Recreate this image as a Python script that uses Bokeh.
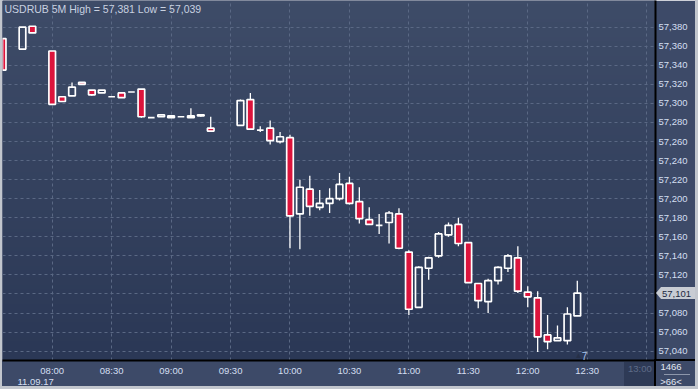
import numpy as np
import pandas as pd
from bokeh.plotting import figure
from bokeh.layouts import column
from bokeh.models import (Range1d, FixedTicker, CustomJSTickFormatter, DatetimeTickFormatter,
                          ColumnDataSource, Label, Title, Div)
from bokeh.embed import file_html
from bokeh.resources import INLINE

# ---------------- data ----------------
DAY = "2017-09-11"
times = ["07:35", "07:45", "07:50", "08:00", "08:05", "08:10", "08:15", "08:20", "08:25",
         "08:30", "08:35", "08:40", "08:45", "08:50", "08:55", "09:00", "09:05", "09:10",
         "09:15", "09:20", "09:35", "09:40", "09:45", "09:50", "09:55", "10:00", "10:05",
         "10:10", "10:15", "10:20", "10:25", "10:30", "10:35", "10:40", "10:45", "10:50",
         "10:55", "11:00", "11:05", "11:10", "11:15", "11:20", "11:25", "11:30", "11:35",
         "11:40", "11:45", "11:50", "11:55", "12:00", "12:05", "12:10", "12:15", "12:20",
         "12:25"]
opens = [57.368, 57.357, 57.381, 57.355, 57.307, 57.308, 57.322, 57.314, 57.311,
         57.307, 57.311, 57.312, 57.315, 57.285, 57.286, 57.287, 57.286, 57.285,
         57.287, 57.274, 57.277, 57.304, 57.272, 57.274, 57.260, 57.264, 57.184,
         57.210, 57.191, 57.195, 57.200, 57.216, 57.197, 57.178, 57.172, 57.175,
         57.184, 57.144, 57.086, 57.127, 57.140, 57.162, 57.173, 57.154, 57.111,
         57.092, 57.114, 57.127, 57.138, 57.102, 57.096, 57.057, 57.051, 57.051,
         57.077]
highs = [57.368, 57.380, 57.381, 57.355, 57.307, 57.322, 57.322, 57.314, 57.314,
         57.307, 57.311, 57.312, 57.315, 57.285, 57.288, 57.287, 57.286, 57.295,
         57.288, 57.286, 57.304, 57.311, 57.276, 57.282, 57.270, 57.267, 57.220,
         57.224, 57.209, 57.211, 57.227, 57.223, 57.212, 57.191, 57.184, 57.187,
         57.190, 57.146, 57.129, 57.139, 57.165, 57.175, 57.180, 57.154, 57.111,
         57.116, 57.129, 57.142, 57.150, 57.108, 57.103, 57.078, 57.067, 57.086,
         57.114]
lows = [57.335, 57.357, 57.374, 57.299, 57.302, 57.308, 57.320, 57.308, 57.311,
        57.307, 57.306, 57.312, 57.285, 57.285, 57.286, 57.285, 57.286, 57.285,
        57.286, 57.271, 57.277, 57.273, 57.270, 57.257, 57.258, 57.148, 57.147,
        57.182, 57.188, 57.185, 57.198, 57.194, 57.174, 57.173, 57.163, 57.153,
        57.147, 57.078, 57.086, 57.115, 57.138, 57.160, 57.150, 57.112, 57.085,
        57.080, 57.110, 57.123, 57.101, 57.086, 57.039, 57.042, 57.051, 57.047,
        57.077]
closes = [57.335, 57.380, 57.374, 57.299, 57.302, 57.317, 57.320, 57.309, 57.314,
          57.307, 57.306, 57.312, 57.286, 57.285, 57.288, 57.285, 57.286, 57.287,
          57.288, 57.271, 57.303, 57.273, 57.272, 57.261, 57.265, 57.182, 57.212,
          57.192, 57.195, 57.200, 57.215, 57.195, 57.179, 57.173, 57.172, 57.185,
          57.148, 57.084, 57.128, 57.138, 57.163, 57.172, 57.153, 57.112, 57.093,
          57.114, 57.128, 57.140, 57.103, 57.097, 57.055, 57.050, 57.054, 57.079,
          57.101]

y_ticks = [57.040, 57.060, 57.080, 57.100, 57.120, 57.140, 57.160, 57.180, 57.200,
           57.220, 57.240, 57.260, 57.280, 57.300, 57.320, 57.340, 57.360, 57.380]
x_tick_labels = ["08:00", "08:30", "09:00", "09:30", "10:00", "10:30", "11:00",
                 "11:30", "12:00", "12:30"]
future_tick = "13:00"
title_text = "USDRUB 5M High = 57,381 Low = 57,039"
date_text = "11.09.17"
bars_text = "1466"
zoom_text = ">66<"
event_text = "7"

# ---------------- styling ----------------
RED = "#dc143c"
PANEL = "#3d4a68"
EDGE = "#c2c6cd"
TXT = "#d4dff1"
GRID = "#5a6884"
FONT = "Liberation Sans"
TFONT = "Liberation Sans Narrow, Liberation Sans, sans-serif"
W, H = 698, 389
FRAME_H = 360


def ms(hhmm):
    return pd.Timestamp(f"{DAY} {hhmm}").value / 1e6


X_START = ms("07:34:55")
X_END = ms("13:04:28")
Y_MIN, Y_MAX = 57.0302, 57.4080
BODY_W = 200000

t_ms = [ms(t) for t in times]
tops = [max(o, c) for o, c in zip(opens, closes)]
bots = [min(o, c) for o, c in zip(opens, closes)]
fills = [RED if c < o else "white" for o, c in zip(opens, closes)]
alphas = [1.0 if c < o else 0.0 for o, c in zip(opens, closes)]
src = ColumnDataSource(dict(t=t_ms, top=tops, bottom=bots, high=highs, low=lows,
                            fill=fills, alpha=alphas))

p = figure(width=W, height=H, x_axis_type="datetime", y_axis_location="right",
           x_range=Range1d(X_START, X_END), y_range=Range1d(Y_MIN, Y_MAX),
           output_backend="svg", toolbar_location=None,
           min_border_left=2, min_border_right=43, min_border_top=0,
           min_border_bottom=H - FRAME_H)
p.border_fill_color = PANEL
p.background_fill_color = "#34415f"
p.outline_line_color = None

# gradient background of the plot area
N = 96
img = np.empty((N, 1), dtype=np.uint32)
view = img.view(dtype=np.uint8).reshape((N, 1, 4))
top_c = np.array([62, 76, 104])
bot_c = np.array([43, 56, 86])
for i in range(N):
    f = i / (N - 1)
    col = bot_c + (top_c - bot_c) * f
    view[i, 0, 0:3] = col.astype(np.uint8)
    view[i, 0, 3] = 255
p.image_rgba(image=[img], x=X_START, y=Y_MIN, dw=X_END - X_START, dh=Y_MAX - Y_MIN,
             level="image")

# axes
yax = p.yaxis[0]
yax.ticker = FixedTicker(ticks=y_ticks)
yax.formatter = CustomJSTickFormatter(code="return tick.toFixed(3).replace('.', ',');")
xax = p.xaxis[0]
xax.ticker = FixedTicker(ticks=[ms(t) for t in x_tick_labels])
xax.formatter = DatetimeTickFormatter(minutes="%H:%M", hourmin="%H:%M", hours="%H:%M",
                                      minsec="%H:%M", seconds="%H:%M")
for ax in (xax, yax):
    ax.major_tick_line_color = None
    ax.minor_tick_line_color = None
    ax.major_tick_out = 0
    ax.major_tick_in = 0
    ax.minor_tick_out = 0
    ax.minor_tick_in = 0
    ax.axis_line_color = "black"
    ax.axis_line_width = 2
    ax.major_label_text_color = TXT
    ax.major_label_text_font = FONT
    ax.major_label_text_font_size = "9.5px"
yax.major_label_standoff = 3
xax.major_label_standoff = 4

# date line under the time axis
p.add_layout(Title(text=date_text, align="left", offset=15, standoff=0, text_font=FONT,
                   text_font_size="9.5px", text_font_style="normal", text_color=TXT,
                   vertical_align="top"),
             "below")

p.xgrid.ticker = FixedTicker(ticks=[ms(t) for t in x_tick_labels + [future_tick]])
p.ygrid.ticker = FixedTicker(ticks=y_ticks)
for g in (p.xgrid[0], p.ygrid[0]):
    g.grid_line_color = GRID
    g.grid_line_dash = "3 3"
    g.grid_line_width = 1

# candles
p.segment(x0="t", y0="top", x1="t", y1="high", source=src, line_color="white", line_width=1.3)
p.segment(x0="t", y0="low", x1="t", y1="bottom", source=src, line_color="white", line_width=1.3)
p.vbar(x="t", width=BODY_W, top="top", bottom="bottom", source=src, fill_color="fill",
       fill_alpha="alpha", line_color="white", line_width=1.7)


def clabel(x, y, text, color, size="9.5px", align="left", font=FONT):
    p.add_layout(Label(x=x, y=y, x_units="canvas", y_units="canvas", text=text,
                       text_align=align, text_baseline="middle", text_color=color,
                       text_font=font, text_font_size=size, level="overlay"))


# texts inside the frame
clabel(4, 8, title_text, "#c8d1e0", size="10.5px", font=TFONT)
clabel(578, 355, "\u25B2", "#263048", size="8px", align="center")
clabel(584, 355, event_text, "#a9c6ee", size="10px", align="center")

# ---- decorations outside the frame (HTML overlays on the axis panels) ----
overlays = []


def abs_div(left, top, width, height, html="", style=None):
    st = {"position": "absolute", "left": f"{left}px", "top": f"{top}px",
          "width": f"{width}px", "height": f"{height}px", "overflow": "hidden",
          "font-family": FONT, "font-size": "9.5px", "z-index": "5"}
    if style:
        st.update(style)
    overlays.append(Div(text=html, width=width, height=height, margin=(0, 0, 0, 0),
                        styles=st))


def esc(s):
    return s.replace("&", "&amp;").replace("<", "&lt;").replace(">", "&gt;")


# future time slot on the time axis
abs_div(624, 362, 31, 24,
        f'<div style="position:absolute;left:4px;top:1px;line-height:12px;'
        f'color:#5e6c88;white-space:nowrap">{future_tick}</div>',
        {"background": "#2e3a56"})
# black separators through the corner
abs_div(654, 359, 41, 2, "", {"background": "black"})
abs_div(654, 359, 2, 27, "", {"background": "black"})
# bar count / zoom box in the corner
abs_div(656, 361, 39, 25,
        f'<div style="position:absolute;left:0;top:0;width:30px;line-height:12px;'
        f'text-align:center;color:#e2e8f2">{esc(bars_text)}</div>'
        f'<div style="position:absolute;left:8px;top:13px;width:26px;height:1px;'
        f'background:#8d97ab"></div>'
        f'<div style="position:absolute;left:0;top:15px;width:30px;line-height:12px;'
        f'text-align:center;color:#e2e8f2">{esc(zoom_text)}</div>')
# last price tag on the price axis
last_txt = f"{closes[-1]:.3f}".replace(".", ",")
tag_y = (Y_MAX - closes[-1]) / (Y_MAX - Y_MIN) * FRAME_H
abs_div(656, round(tag_y - 6), 5, 12, "",
        {"width": "0px", "height": "0px", "border-right": "5px solid #c8ccd3",
         "border-top": "6px solid transparent", "border-bottom": "6px solid transparent",
         "overflow": "visible"})
abs_div(661, round(tag_y - 6), 35, 12,
        f'<div style="line-height:12px;padding-left:1px;color:#1d2840;'
        f'white-space:nowrap">{last_txt}</div>',
        {"background": "#c8ccd3"})
# light outer frame of the widget
abs_div(0, 0, 2, H, "", {"background": EDGE})
abs_div(695, 0, 3, H, "", {"background": EDGE})
abs_div(0, 386, W, 3, "", {"background": EDGE})

layout = column(p, *overlays, spacing=0)
open("out.html", "w").write(file_html(layout, INLINE))
